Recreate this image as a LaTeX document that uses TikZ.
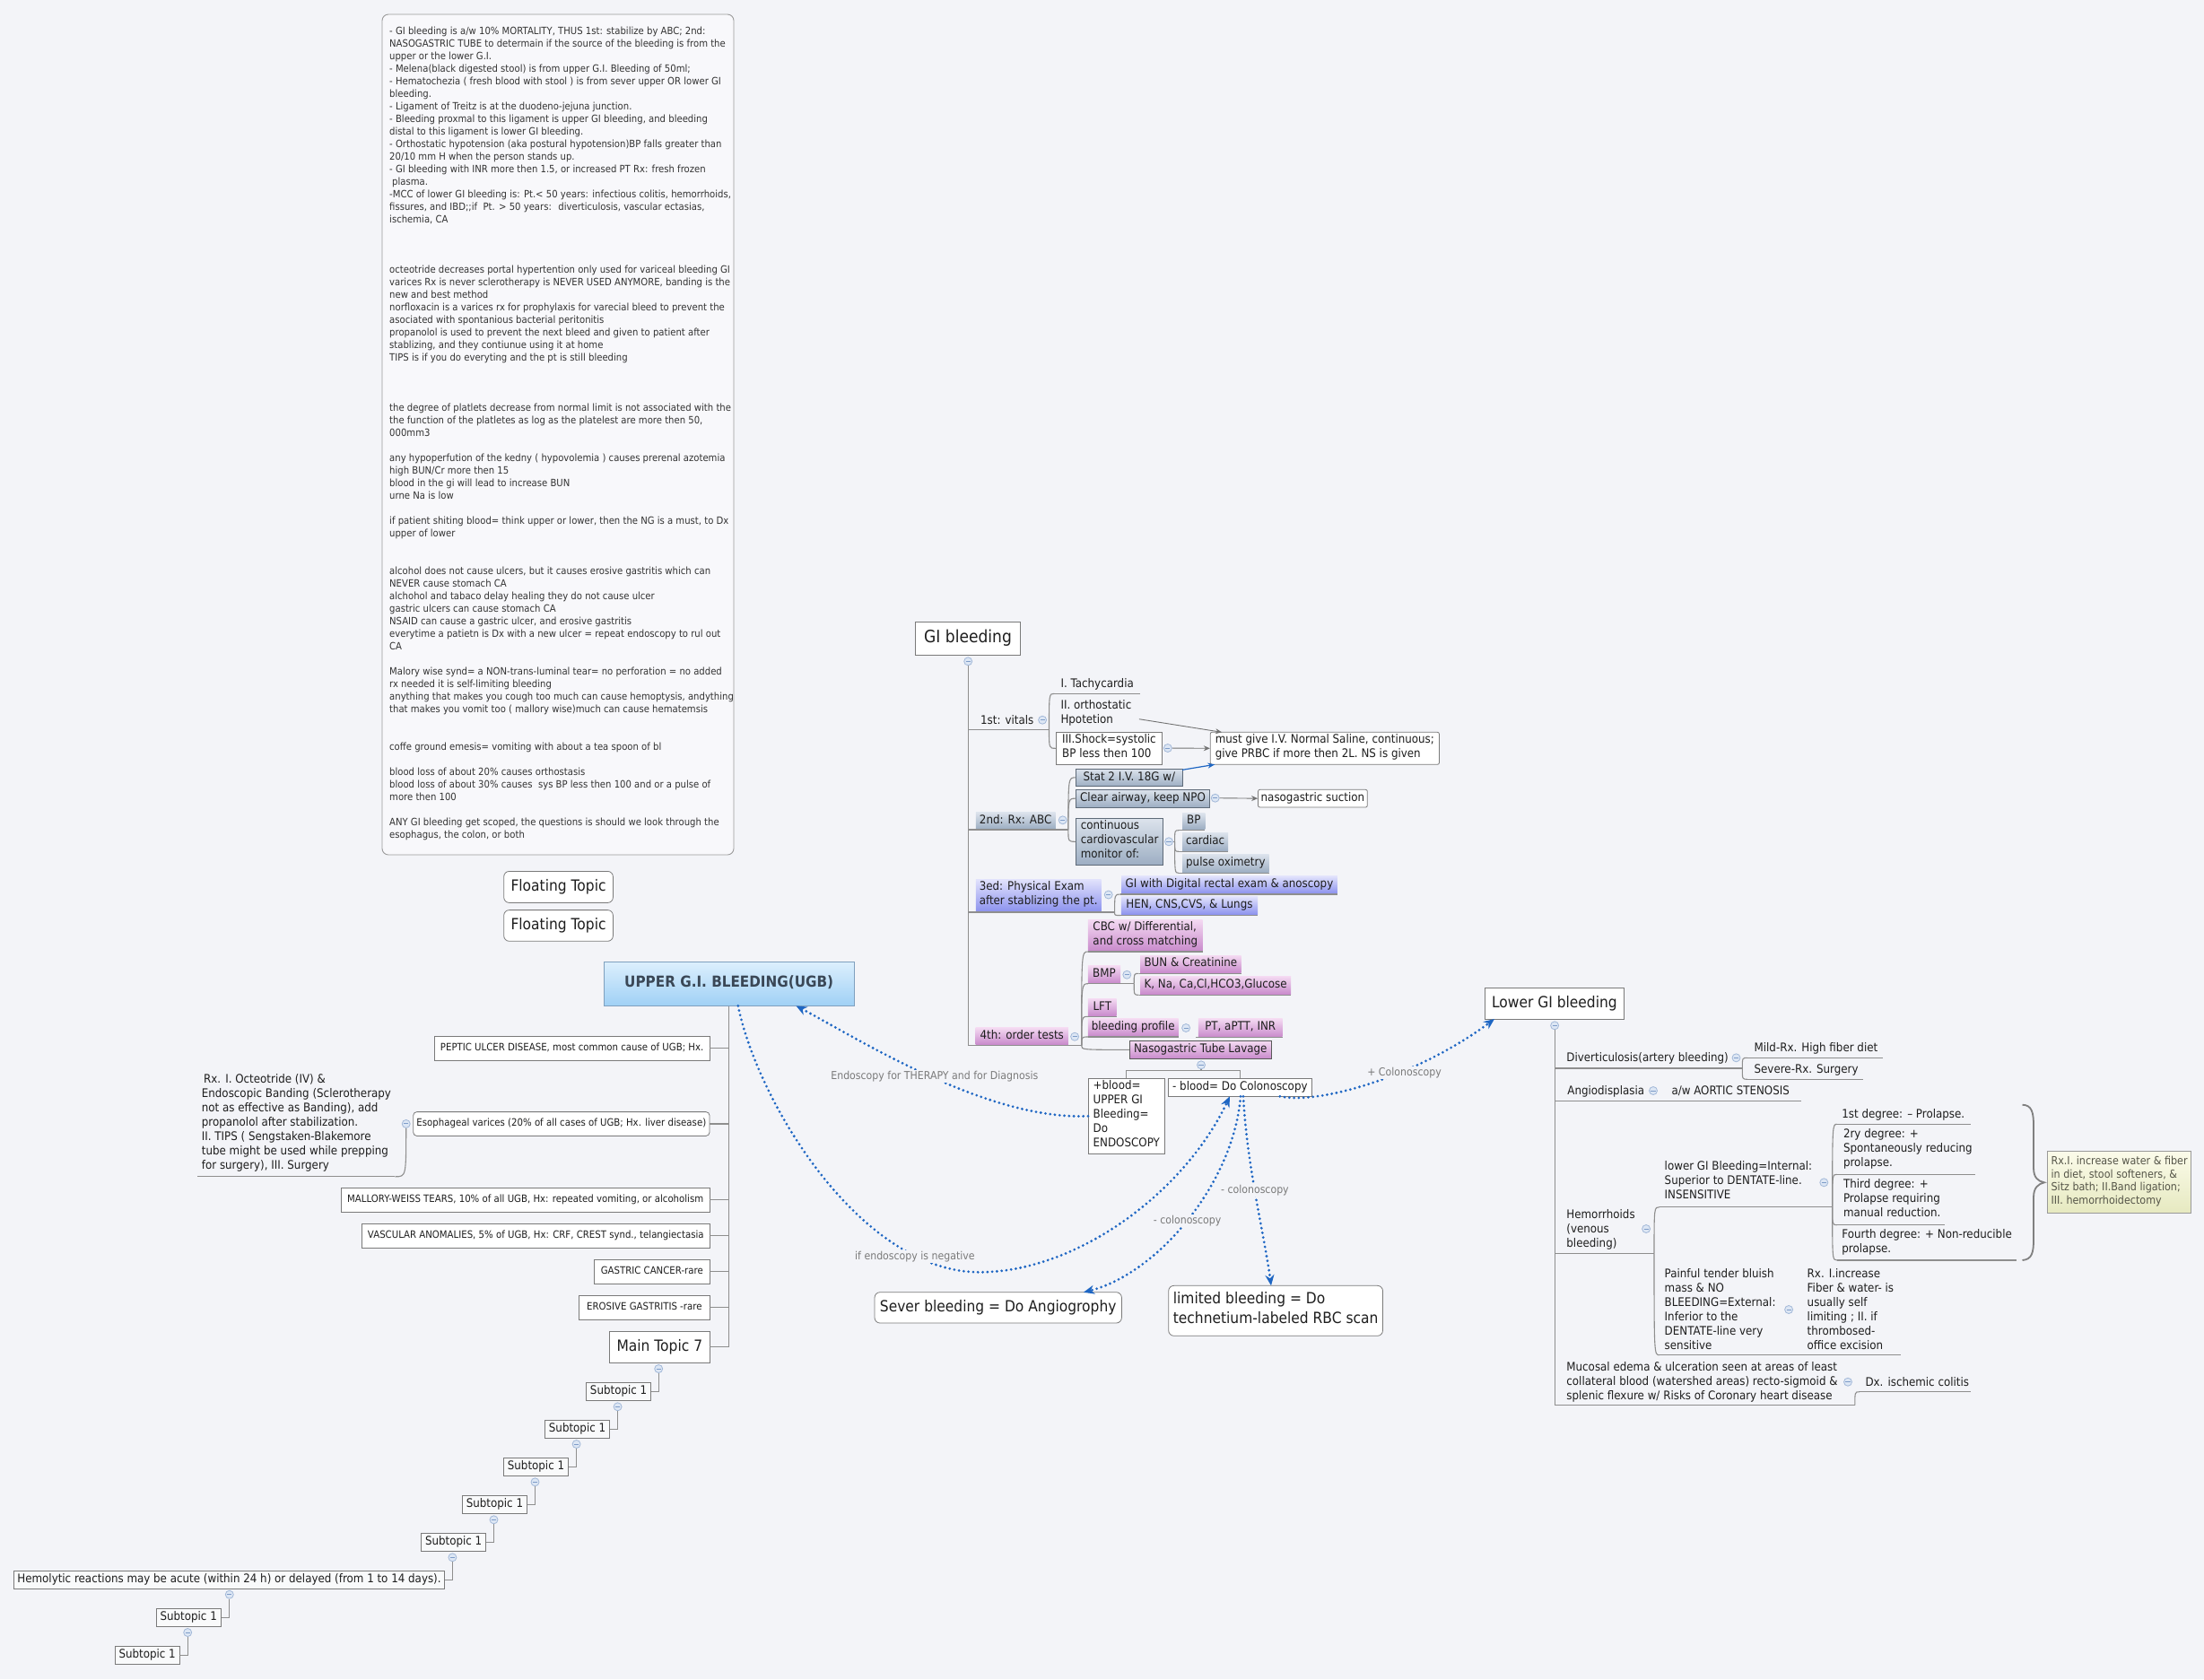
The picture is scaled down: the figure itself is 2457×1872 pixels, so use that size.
\documentclass[tikz,border=0pt]{standalone}
\usepackage{fontspec}
\setmainfont{DejaVu Sans}[FakeStretch=0.9]
\usetikzlibrary{arrows.meta}
\definecolor{bg}{HTML}{F3F4F8}
\definecolor{lineg}{HTML}{8E8E8E}
\definecolor{boxd}{HTML}{7A7A7A}
\definecolor{txt}{HTML}{1E1E1E}
\definecolor{blu}{HTML}{1E66C3}
\definecolor{lblc}{HTML}{7A7A7A}
\definecolor{ccf}{HTML}{DCE6F4}
\definecolor{ccb}{HTML}{A2B8D8}
\definecolor{ccm}{HTML}{7E9CC8}
\definecolor{stT}{HTML}{DCE3EC}
\definecolor{stB}{HTML}{9DAEC3}
\definecolor{stD}{HTML}{5E6A78}
\definecolor{viT}{HTML}{E2E3FC}
\definecolor{viB}{HTML}{8D93EE}
\definecolor{puT}{HTML}{F4DAF2}
\definecolor{puB}{HTML}{C98BCC}
\definecolor{ugT}{HTML}{DCEFFD}
\definecolor{ugB}{HTML}{9FD0F5}
\definecolor{ugD}{HTML}{7FA0BE}
\definecolor{ugtx}{HTML}{3A4756}
\definecolor{yeT}{HTML}{FBFBEA}
\definecolor{yeB}{HTML}{E6E9C0}
\definecolor{yetx}{HTML}{555548}
\definecolor{notebd}{HTML}{9A9A9A}
\definecolor{notetx}{HTML}{333333}
\definecolor{bracec}{HTML}{808080}

\newcommand\fN{\fontsize{11.2}{14}\selectfont}
\newcommand\fS{\fontsize{13.2}{16}\selectfont}
\newcommand\fL{\fontsize{11.3}{14}\selectfont}
\newcommand\fB{\fontsize{17.2}{22.7}\selectfont}
\newcommand\fG{\fontsize{19}{23}\selectfont}
\newcommand\fR{\fontsize{12.4}{14.8}\selectfont}
\newcommand\fT{\fontsize{12.2}{14}\selectfont}

\newcommand\bx[7]{\node[#2, minimum width={#5-#3}, minimum height={#6-#4}] (#1) at ({(#3+#5)/2},{(#4+#6)/2}) {#7};}
\newcommand\ut[4]{\node[utxt] (#1) at (#2,#3) {#4};}
\newcommand\ul[4]{\coordinate (#1-l) at (#2,#4); \coordinate (#1-r) at (#3,#4); \draw[cl] (#1-l) -- (#1-r);}
\newcommand\brk[2]{\draw[cl] (#1) .. controls (#1 |- #2) .. (#2);}
\newcommand\ccn[3]{\node[cc] (#1) at (#2,#3) {};}

\tikzset{
 cl/.style={draw=lineg, line width=1.1pt},
 utxt/.style={anchor=north west, inner sep=0pt, align=left, font=\fS, text=txt, execute at begin node=\strut, execute at end node=\strut},
 basebox/.style={inner sep=0pt, align=left, font=\fS, text=txt, execute at begin node=\strut, execute at end node=\strut},
 wbox/.style={basebox, draw=boxd, fill=white, line width=0.8pt},
 lbox/.style={wbox, font=\fL},
 sbox/.style={wbox, fill=white!50!bg},
 stf/.style={basebox, top color=stT, bottom color=stB, draw=none},
 stfd/.style={stf, draw=stD, line width=0.7pt},
 vif/.style={basebox, top color=viT, bottom color=viB, draw=none},
 puf/.style={basebox, top color=puT, bottom color=puB, draw=none},
 pufd/.style={puf, draw=black!65, line width=0.7pt},
 ugbox/.style={basebox, top color=ugT, bottom color=ugB, draw=ugD, line width=0.8pt, font=\bfseries\fontsize{16.9}{20}\selectfont, text=ugtx},
 ybox/.style={basebox, top color=yeT, bottom color=yeB, draw=black!40, line width=0.8pt, font=\fR, text=yetx},
 cc/.style={circle, draw=ccb, fill=ccf, line width=0.8pt, minimum size=9pt, inner sep=0pt,
   path picture={\draw[ccm, line width=1pt] ([xshift=-2.6pt]path picture bounding box.center) -- ([xshift=2.6pt]path picture bounding box.center);}},
 garr/.style={draw=black!55, line width=0.9pt, -{Stealth[length=7pt,width=6pt]}},
 barr/.style={draw=blu, line width=1.2pt, -{Stealth[length=8pt,width=6pt]}},
 dotarr/.style={draw=blu, line width=3.1pt, line cap=round, dash pattern=on 0pt off 5.3pt, -{Stealth[length=12pt,width=10pt]}},
 lbl/.style={font=\fT, text=lblc, fill=bg, inner sep=1pt},
 bracel/.style={draw=bracec, line width=1.8pt}
}

\begin{document}
\begin{tikzpicture}[x=1pt,y=-1pt]
\useasboundingbox (0,0) rectangle (2457,1872);
\fill[bg] (0,0) rectangle (2457,1872);

% ---------------- notes ----------------
\node[draw=notebd, fill=white!40!bg, rounded corners=7pt, line width=0.9pt, minimum width=392, minimum height=937, inner sep=0pt] (notebox) at (622,484.5) {};
\node[anchor=north west, inner sep=0pt, align=left, font=\fN, text=notetx, execute at begin node=\strut, execute at end node=\strut] (notes) at (434,30.2) {%
- GI bleeding is a/w 10\% MORTALITY, THUS 1st: stabilize by ABC; 2nd:\\
NASOGASTRIC TUBE to determain if the source of the bleeding is from the\\
upper or the lower G.I.\\
- Melena(black digested stool) is from upper G.I. Bleeding of 50ml;\\
- Hematochezia ( fresh blood with stool ) is from sever upper OR lower GI\\
bleeding.\\
- Ligament of Treitz is at the duodeno-jejuna junction.\\
- Bleeding proxmal to this ligament is upper GI bleeding, and bleeding\\
distal to this ligament is lower GI bleeding.\\
- Orthostatic hypotension (aka postural hypotension)BP falls greater than\\
20/10 mm H when the person stands up.\\
- GI bleeding with INR more then 1.5, or increased PT Rx: fresh frozen\\
\hspace{3pt}plasma.\\
-MCC of lower GI bleeding is: Pt.< 50 years: infectious colitis, hemorrhoids,\\
fissures, and IBD;;if \ Pt. > 50 years: \ diverticulosis, vascular ectasias,\\
ischemia, CA\\[42pt]
octeotride decreases portal hypertention only used for variceal bleeding GI\\
varices Rx is never sclerotherapy is NEVER USED ANYMORE, banding is the\\
new and best method\\
norfloxacin is a varices rx for prophylaxis for varecial bleed to prevent the\\
asociated with spontanious bacterial peritonitis\\
propanolol is used to prevent the next bleed and given to patient after\\
stablizing, and they contiunue using it at home\\
TIPS is if you do everyting and the pt is still bleeding\\[42pt]
the degree of platlets decrease from normal limit is not associated with the\\
the function of the platletes as log as the platelest are more then 50,\\
000mm3\\[14pt]
any hypoperfution of the kedny ( hypovolemia ) causes prerenal azotemia\\
high BUN/Cr more then 15\\
blood in the gi will lead to increase BUN\\
urne Na is low\\[14pt]
if patient shiting blood= think upper or lower, then the NG is a must, to Dx\\
upper of lower\\[28pt]
alcohol does not cause ulcers, but it causes erosive gastritis which can\\
NEVER cause stomach CA\\
alchohol and tabaco delay healing they do not cause ulcer\\
gastric ulcers can cause stomach CA\\
NSAID can cause a gastric ulcer, and erosive gastritis\\
everytime a patietn is Dx with a new ulcer = repeat endoscopy to rul out\\
CA\\[14pt]
Malory wise synd= a NON-trans-luminal tear= no perforation = no added\\
rx needed it is self-limiting bleeding\\
anything that makes you cough too much can cause hemoptysis, andything\\
that makes you vomit too ( mallory wise)much can cause hematemsis\\[28pt]
coffe ground emesis= vomiting with about a tea spoon of bl\\[14pt]
blood loss of about 20\% causes orthostasis\\
blood loss of about 30\% causes \ sys BP less then 100 and or a pulse of\\
more then 100\\[14pt]
ANY GI bleeding get scoped, the questions is should we look through the\\
esophagus, the colon, or both};

% ---------------- floating topics ----------------
\bx{ft1}{wbox,rounded corners=6pt,font=\fB}{561.7}{971.4}{683.4}{1006.4}{Floating Topic}
\bx{ft2}{wbox,rounded corners=6pt,font=\fB}{561.7}{1014.6}{683.4}{1049.3}{Floating Topic}

% ---------------- GI bleeding (centre) ----------------
\bx{gib}{wbox,font=\fG}{1020.5}{693.3}{1137.6}{730.7}{GI bleeding}
\ccn{gibcc}{1079.2}{737.3}

\ut{v1}{1092.9}{795.7}{1st: vitals}
\ul{v1}{1079.2}{1169.5}{813.3}
\ccn{v1cc}{1162.1}{802.7}
\ut{tach}{1182.3}{754.7}{I. Tachycardia}
\ul{tach}{1175.3}{1271.4}{773.3}
\ut{orth}{1182.3}{780}{II. orthostatic\\Hpotetion}
\bx{shock}{wbox}{1177.3}{816.3}{1295.5}{852.3}{III.Shock=systolic\\BP less then 100}
\ccn{shockcc}{1301.8}{834}
\bx{must}{wbox,rounded corners=2pt}{1349.2}{816.3}{1604.4}{852.3}{must give I.V. Normal Saline, continuous;\\give PRBC if more then 2L. NS is given}
\brk{v1-r}{tach-l}
\brk{v1-r}{shock.west}
\coordinate (orthA) at (1269.9,801.7);
\coordinate (mustT) at (1362,816.3);
\draw[garr] (orthA) -- (mustT);
\draw[garr] (shockcc) -- (must.west);

\bx{abc}{stf}{1087.8}{905.7}{1176.5}{924}{2nd: Rx: ABC}
\ul{abc}{1079.2}{1190.9}{925}
\ccn{abccc}{1184.7}{914.3}
\bx{stat}{stfd}{1199.5}{857}{1318.1}{876.7}{Stat 2 I.V. 18G w/}
\bx{clr}{stfd}{1199.5}{880.3}{1348.5}{900}{Clear airway, keep NPO}
\ccn{clrcc}{1354.7}{889.7}
\bx{nsuc}{wbox,rounded corners=2pt}{1402.5}{880.3}{1524.3}{900}{nasogastric suction}
\bx{cont}{stfd}{1199.5}{912.3}{1296.7}{964.3}{continuous\\cardiovascular\\monitor of:}
\ccn{contcc}{1303}{938.3}
\coordinate (contb) at (1309.6,938.3);
\bx{bp}{stf}{1318.1}{906.7}{1343.4}{924.3}{BP}
\ul{bp}{1314}{1343.4}{925.7}
\bx{card}{stf}{1318.1}{928.3}{1369.1}{948.3}{cardiac}
\ul{card}{1314}{1369.1}{949.3}
\bx{pox}{stf}{1318.1}{952.3}{1414.6}{972.7}{pulse oximetry}
\ul{pox}{1314}{1414.6}{973.3}
\brk{abc-r}{stat.west}
\brk{abc-r}{clr.west}
\brk{abc-r}{cont.west}
\draw[cl] (contcc) -- (contb);
\brk{contb}{bp-l}
\brk{contb}{card-l}
\brk{contb}{pox-l}
\draw[garr] (clrcc) -- (nsuc.west);
\coordinate (statA) at (1318.1,858.3);
\coordinate (mustB) at (1354.3,852.3);
\draw[barr] (statA) -- (mustB);

\bx{pe}{vif}{1087.8}{980}{1227.5}{1016}{3ed: Physical Exam\\after stablizing the pt.}
\ul{pe}{1079.2}{1242.6}{1017}
\ccn{pecc}{1235.7}{997.5}
\bx{giw}{vif}{1250}{976.5}{1490.8}{996}{GI with Digital rectal exam \& anoscopy}
\ul{giw}{1249}{1490.8}{997}
\bx{hen}{vif}{1249.8}{999.5}{1402}{1019.5}{HEN, CNS,CVS, \& Lungs}
\ul{hen}{1249}{1402}{1020.5}
\brk{pe-r}{giw-l}
\brk{pe-r}{hen-l}

\bx{ot}{puf}{1087.6}{1145.7}{1190.9}{1164.3}{4th: order tests}
\ul{ot}{1079.2}{1205.7}{1165.7}
\ccn{otcc}{1198.1}{1155.7}
\bx{cbc}{puf}{1212.9}{1025}{1340.7}{1060}{CBC w/ Differential,\\and cross matching}
\ul{cbc}{1212.9}{1340.7}{1061}
\bx{bmp}{puf}{1212.9}{1076.7}{1249.1}{1096}{BMP}
\ul{bmp}{1212.9}{1264.2}{1096.7}
\ccn{bmpcc}{1256.3}{1086.7}
\bx{bun}{puf}{1271.1}{1065}{1383.7}{1084.3}{BUN \& Creatinine}
\ul{bun}{1269.5}{1383.7}{1085.3}
\bx{kna}{puf}{1271.1}{1088.3}{1439.2}{1108.3}{K, Na, Ca,Cl,HCO3,Glucose}
\ul{kna}{1269.5}{1439.2}{1109.3}
\bx{lft}{puf}{1212.9}{1113.3}{1244.6}{1132.3}{LFT}
\ul{lft}{1212.9}{1244.6}{1133.3}
\bx{blp}{puf}{1212.9}{1135.7}{1313.5}{1155}{bleeding profile}
\ul{blp}{1212.9}{1313.5}{1156}
\ccn{blpcc}{1322.1}{1146}
\bx{pt}{puf}{1335.9}{1135.7}{1429.5}{1155.7}{PT, aPTT, INR}
\ul{pt}{1333}{1429.5}{1156.7}
\bx{ngl}{pufd}{1259.1}{1160.7}{1417.5}{1180}{Nasogastric Tube Lavage}
\brk{ot-r}{cbc-l}
\brk{ot-r}{bmp-l}
\brk{ot-r}{lft-l}
\brk{ot-r}{blp-l}
\brk{ot-r}{ngl.west}
\brk{bmp-r}{bun-l}
\brk{bmp-r}{kna-l}
\draw[cl] (gibcc) -- (ot-l);

\bx{plusb}{wbox}{1213.4}{1202.3}{1298.2}{1286.3}{+blood=\\UPPER GI\\Bleeding=\\Do\\ENDOSCOPY}
\bx{minusb}{wbox}{1302.2}{1202.3}{1462.5}{1222.3}{- blood= Do Colonoscopy}
\ccn{nglcc}{1339}{1187.3}
\coordinate (ngj) at (1339,1193.3);
\draw[cl] (nglcc) -- (ngj);
\draw[cl] (plusb.north) |- (ngj) -| (minusb.north);

\bx{sev}{wbox,rounded corners=6pt,font=\fB}{975}{1440.7}{1250.4}{1475}{Sever bleeding = Do Angiogrophy}
\bx{lim}{wbox,rounded corners=6pt,font=\fB}{1302.7}{1433.3}{1541.5}{1489.3}{limited bleeding = Do\\technetium-labeled RBC scan}

% ---------------- UPPER GI ----------------
\bx{ugb}{ugbox}{673}{1072.5}{952.4}{1121.4}{UPPER G.I. BLEEDING(UGB)}
\bx{pep}{lbox}{484.3}{1155.7}{791}{1182.1}{PEPTIC ULCER DISEASE, most common cause of UGB; Hx.}
\bx{eso}{lbox,rounded corners=4pt}{460.7}{1239.6}{791}{1266.4}{Esophageal varices (20\% of all cases of UGB; Hx. liver disease)}
\bx{mal}{lbox}{380.4}{1324.3}{791}{1351.4}{MALLORY-WEISS TEARS, 10\% of all UGB, Hx: repeated vomiting, or alcoholism}
\bx{vas}{lbox}{403.6}{1364.3}{791}{1391.4}{VASCULAR ANOMALIES, 5\% of UGB, Hx: CRF, CREST synd., telangiectasia}
\bx{gas}{lbox}{662.6}{1404.3}{791}{1431.4}{GASTRIC CANCER-rare}
\bx{ero}{lbox}{645.7}{1444.3}{791}{1471.4}{EROSIVE GASTRITIS -rare}
\bx{mt7}{wbox,font=\fB}{679.6}{1484.3}{791}{1519}{Main Topic 7}
\draw[cl] (ugb.south) -- (ugb.south |- mt7.east) -- (mt7.east);
\foreach \n in {pep,eso,mal,vas,gas,ero} \draw[cl] (\n.east) -- (\n.east -| ugb.south);
\ccn{esocc}{452.7}{1252.9}
\ut{rxl}{224.7}{1197.6}{\hspace{2.3pt}Rx. I. Octeotride (IV) \&\\Endoscopic Banding (Sclerotherapy\\not as effective as Banding), add\\propanolol after stabilization.\\II. TIPS ( Sengstaken-Blakemore\\tube might be used while prepping\\for surgery), III. Surgery}
\ul{rxl}{220}{440.4}{1311.8}
\brk{esocc}{rxl-r}

% subtopic chain
\bx{s1}{sbox}{653.7}{1541.3}{725.5}{1561.3}{Subtopic 1}
\bx{s2}{sbox}{607.7}{1583.3}{679.4}{1603.3}{Subtopic 1}
\bx{s3}{sbox}{561.6}{1625.3}{633.4}{1645.3}{Subtopic 1}
\bx{s4}{sbox}{515.6}{1667.3}{587.3}{1687.3}{Subtopic 1}
\bx{s5}{sbox}{469.5}{1709.3}{541.8}{1729.3}{Subtopic 1}
\bx{hemo}{sbox}{15.8}{1751.3}{495.2}{1771.7}{Hemolytic reactions may be acute (within 24 h) or delayed (from 1 to 14 days).}
\bx{s6}{sbox}{174.3}{1793.3}{246.1}{1813.3}{Subtopic 1}
\bx{s7}{sbox}{128.3}{1835.3}{200}{1855.3}{Subtopic 1}
\ccn{mt7cc}{734.2}{1526}
\ccn{s1cc}{688.6}{1568.3}
\ccn{s2cc}{642.6}{1610}
\ccn{s3cc}{596.5}{1652.3}
\ccn{s4cc}{550.5}{1694.3}
\ccn{s5cc}{504.4}{1736.3}
\ccn{hemocc}{255.8}{1777.7}
\ccn{s6cc}{209.2}{1820}
\draw[cl] (mt7cc) |- (s1.east);
\draw[cl] (s1cc) |- (s2.east);
\draw[cl] (s2cc) |- (s3.east);
\draw[cl] (s3cc) |- (s4.east);
\draw[cl] (s4cc) |- (s5.east);
\draw[cl] (s5cc) |- (hemo.east);
\draw[cl] (hemocc) |- (s6.east);
\draw[cl] (s6cc) |- (s7.east);

% ---------------- LOWER GI ----------------
\bx{lgi}{wbox,font=\fB}{1655.7}{1101.7}{1810}{1136}{Lower GI bleeding}
\ccn{lgicc}{1733.1}{1143.3}
\ut{div}{1746.2}{1172.3}{Diverticulosis(artery bleeding)}
\ul{div}{1733.1}{1942.3}{1191}
\ccn{divcc}{1935.5}{1179.3}
\ut{mild}{1955.4}{1160.7}{Mild-Rx. High fiber diet}
\ul{mild}{1948}{2098.7}{1179.3}
\ut{sevr}{1955.4}{1184.7}{Severe-Rx. Surgery}
\ul{sevr}{1948}{2076.7}{1203.3}
\brk{div-r}{mild-l}
\brk{div-r}{sevr-l}
\ut{ang}{1747.2}{1209}{Angiodisplasia}
\ccn{angcc}{1843}{1216}
\ut{aws}{1863.3}{1209}{a/w AORTIC STENOSIS}
\ul{ang}{1733.1}{2007.7}{1227.3}
\ut{hem}{1746.2}{1348}{Hemorrhoids\\(venous\\bleeding)}
\ul{hem}{1733.1}{1844}{1397.3}
\ccn{hemcc}{1835.1}{1370}
\ut{int}{1855.5}{1294.7}{lower GI Bleeding=Internal:\\Superior to DENTATE-line.\\INSENSITIVE}
\ul{int}{1850}{2042.7}{1345.7}
\ccn{intcc}{2033.3}{1318.3}
\ut{d1}{2053.2}{1234.7}{1st degree: -- Prolapse.}
\ul{d1}{2048}{2197}{1253.3}
\ut{d2}{2054.8}{1258.7}{2ry degree: +\\Spontaneously reducing\\prolapse.}
\ul{d2}{2048}{2202.2}{1309.3}
\ut{d3}{2054.8}{1314}{Third degree: +\\Prolapse requiring\\manual reduction.}
\ul{d3}{2048}{2168.2}{1365.7}
\ut{d4}{2053.2}{1370.3}{Fourth degree: + Non-reducible\\prolapse.}
\ul{d4}{2048}{2247.7}{1405}
\brk{int-r}{d1-l}
\brk{int-r}{d2-l}
\brk{int-r}{d3-l}
\brk{int-r}{d4-l}
\ut{ext}{1855.5}{1414}{Painful tender bluish\\mass \& NO\\BLEEDING=External:\\Inferior to the\\DENTATE-line very\\sensitive}
\ccn{extcc}{1994.1}{1460}
\ut{rxe}{2014.5}{1414}{Rx. I.increase\\Fiber \& water- is\\usually self\\limiting ; II. if\\thrombosed-\\office excision}
\ul{ext}{1850}{2118.6}{1510.7}
\brk{hem-r}{int-l}
\brk{hem-r}{ext-l}
\ut{muc}{1746.2}{1518}{Mucosal edema \& ulceration seen at areas of least\\collateral blood (watershed areas) recto-sigmoid \&\\splenic flexure w/ Risks of Coronary heart disease}
\ul{muc}{1733.1}{2067.8}{1566.7}
\ccn{muccc}{2060}{1540.7}
\ut{dx}{2079.3}{1533.7}{Dx. ischemic colitis}
\ul{dx}{2073}{2197}{1551.7}
\brk{muc-r}{dx-l}
\draw[cl] (lgicc) -- (muc-l);

% brace + treatment box
\bx{rxh}{ybox}{2282.3}{1283.3}{2442.8}{1352.7}{Rx.I. increase water \& fiber\\in diet, stool softeners, \&\\Sitz bath; II.Band ligation;\\III. hemorrhoidectomy}
\coordinate (brT) at (2254.5,1231.7);
\coordinate (brB) at (2254.5,1405);
\coordinate (brM) at (2279,1318.3);
\draw[bracel] (brT) .. controls (2265,1232) and (2267,1240) .. (2267,1255) -- (2267,1302)
  .. controls (2267,1313) and (2272,1317) .. (brM)
  .. controls (2272,1320) and (2267,1324) .. (2267,1335) -- (2267,1382)
  .. controls (2267,1397) and (2265,1404) .. (brB);

% ---------------- dotted relationship arrows ----------------
\coordinate (ugbE) at (887.5,1121.4);
\coordinate (ugbF) at (822.8,1121.4);
\coordinate (low1) at (1092,1418.3);
\coordinate (minusA) at (1371,1222.3);
\coordinate (minusB) at (1383,1222.3);
\coordinate (minusC) at (1386,1222.3);
\coordinate (minusD) at (1426.8,1222.3);
\coordinate (sevA) at (1208,1440.7);
\coordinate (limA) at (1417,1433.3);
\coordinate (lgA) at (1666,1136);
\draw[dotarr] (plusb.west) .. controls (1100,1249) and (960,1160) .. (ugbE);
\draw[dotarr] (ugbF) .. controls (845,1230) and (960,1418.3) .. (low1) .. controls (1200,1418.3) and (1320,1330) .. (minusA);
\draw[dotarr] (minusB) .. controls (1375,1320) and (1290,1420) .. (sevA);
\draw[dotarr] (minusC) .. controls (1390,1300) and (1410,1380) .. (limA);
\draw[dotarr] (minusD) .. controls (1470,1232) and (1580,1200) .. (lgA);
\node[lbl] (lab1) at (1041.8,1200) {Endoscopy for THERAPY and for Diagnosis};
\node[lbl] (lab2) at (1019.9,1400.7) {if endoscopy is negative};
\node[lbl] (lab3) at (1323.6,1361) {- colonoscopy};
\node[lbl] (lab4) at (1398.9,1326.7) {- colonoscopy};
\node[lbl] (lab5) at (1565.5,1196) {+ Colonoscopy};
\end{tikzpicture}
\end{document}
